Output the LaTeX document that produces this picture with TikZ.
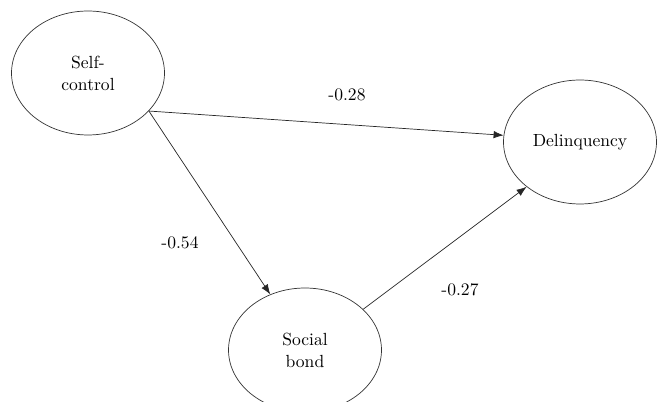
\documentclass[tikz,border=0pt]{standalone}
\usetikzlibrary{shapes.geometric, arrows.meta}
\begin{document}
\begin{tikzpicture}[x=0.02cm, y=0.02cm, font=\fontsize{10}{12.5}\selectfont,
  factor/.style={shape=ellipse, draw=black!80, align=center, inner sep=0pt, minimum width=3.06cm, minimum height=2.48cm},
  effect/.style={-{Latex[length=2mm, width=1.5mm]}, draw=black!85},
  coef/.style={inner sep=1pt}]
\useasboundingbox (0,0) rectangle (657,402);
\node[factor] (SC) at (88, 329) {Self-\\control};
\node[factor] (DL) at (580, 260) {Delinquency};
\node[factor] (SB) at (305, 52) {Social\\bond};
\path (SC.-32) edge[effect] (DL.175);
\path (SC.-32) edge[effect] (SB.122);
\path (SB.35) edge[effect] (DL.220);
\node[coef] (b1) at (347, 307) {-0.28};
\node[coef] (b2) at (180, 159) {-0.54};
\node[coef] (b3) at (460, 112) {-0.27};
\end{tikzpicture}
\end{document}
